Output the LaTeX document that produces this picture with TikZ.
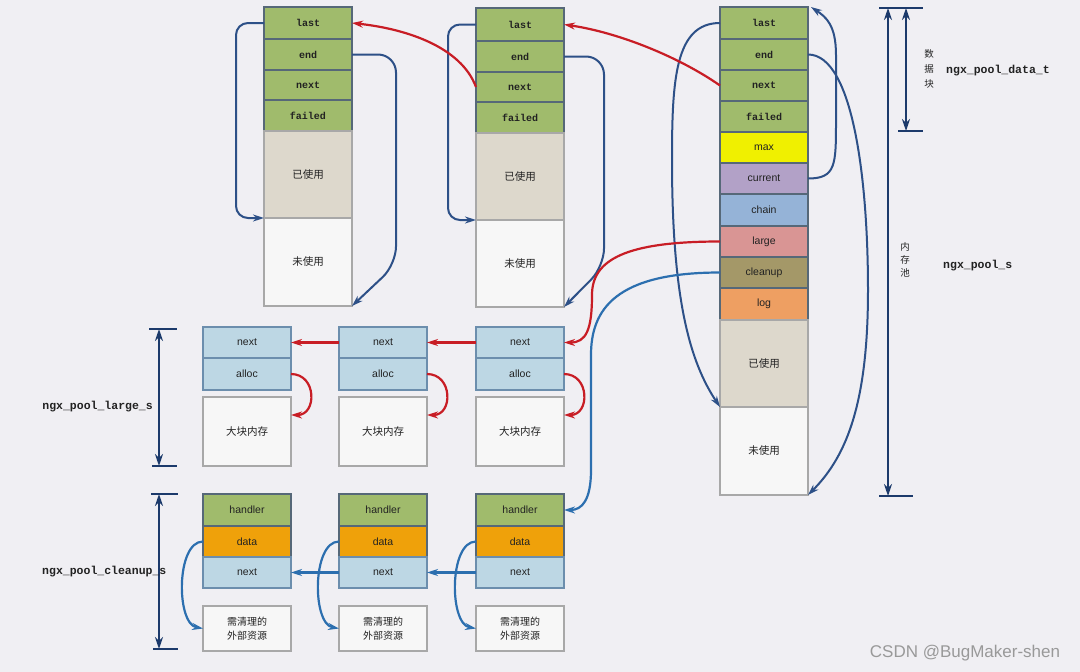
\documentclass[tikz,border=0pt]{standalone}
\usepackage{fontspec}
\setmainfont{Liberation Sans}
\newfontfamily\cjk{Noto Sans CJK SC}
\newfontfamily\monob{Liberation Mono}
\usetikzlibrary{arrows.meta,calc}
\definecolor{bg}{HTML}{F0EFF3}
\definecolor{gfill}{HTML}{A0BB6C}
\definecolor{gborder}{HTML}{566878}
\definecolor{usedfill}{HTML}{DDD8CC}
\definecolor{unusedfill}{HTML}{F7F7F7}
\definecolor{grayborder}{HTML}{A8A8A8}
\definecolor{maxfill}{HTML}{F0F000}
\definecolor{curfill}{HTML}{B2A1C7}
\definecolor{chainfill}{HTML}{95B3D7}
\definecolor{largefill}{HTML}{D99594}
\definecolor{cleanfill}{HTML}{A49868}
\definecolor{logfill}{HTML}{EE9F62}
\definecolor{lbfill}{HTML}{BDD7E4}
\definecolor{lbborder}{HTML}{6C8EAD}
\definecolor{datafill}{HTML}{EFA10A}
\definecolor{navyc}{HTML}{2D5087}
\definecolor{redc}{HTML}{C81D25}
\definecolor{bluec}{HTML}{2C6FAF}
\definecolor{dimc}{HTML}{1C3A6B}
\definecolor{txt}{HTML}{222222}
\begin{document}
\begin{tikzpicture}[x=1pt,y=-1pt,
  box/.style={draw=gborder, line width=1.1pt, minimum width=88pt, inner sep=0pt, outer sep=0pt, anchor=north west, text=txt},
  mf/.style={box, fill=gfill, font=\monob\bfseries\fontsize{10}{11}\selectfont},
  sf/.style={box, font=\fontsize{10.5}{12}\selectfont},
  used/.style={box, draw=grayborder, fill=usedfill, font=\cjk\fontsize{10.5}{12}\selectfont},
  unused/.style={box, draw=grayborder, fill=unusedfill, font=\cjk\fontsize{10.5}{12}\selectfont},
  lb/.style={sf, draw=lbborder, fill=lbfill},
  nv/.style={draw=navyc, line width=2pt, -{Stealth[length=11pt,width=7pt]}},
  rd/.style={draw=redc, line width=2.2pt, -{Stealth[length=11pt,width=7pt]}},
  bl/.style={draw=bluec, line width=2.2pt, -{Stealth[length=11pt,width=7pt]}},
  dimline/.style={draw=dimc, line width=2.6pt, {Stealth[length=12pt,width=8pt]}-{Stealth[length=12pt,width=8pt]}},
  dimtick/.style={draw=dimc, line width=2pt},
  lbl/.style={inner sep=0pt, text=txt, font=\monob\bfseries\fontsize{11.5}{13}\selectfont},
  vlbl/.style={inner sep=0pt, align=center, text=txt}
]
\fill[bg] (0,0) rectangle (1080,672);
\useasboundingbox (0,0) rectangle (1080,672);

% ---------- block 1 ----------
\node[mf, minimum height=32pt] (b1last) at (264,7) {last};
\node[mf, minimum height=31pt] (b1end) at (264,39) {end};
\node[mf, minimum height=30pt] (b1next) at (264,70) {next};
\node[mf, minimum height=31pt] (b1failed) at (264,100) {failed};
\node[used, minimum height=87pt] (b1used) at (264,131) {已使用};
\node[unused, minimum height=88pt] (b1unused) at (264,218) {未使用};

% ---------- block 2 ----------
\node[mf, minimum height=33pt] (b2last) at (476,8) {last};
\node[mf, minimum height=31pt] (b2end) at (476,41) {end};
\node[mf, minimum height=30pt] (b2next) at (476,72) {next};
\node[mf, minimum height=31pt] (b2failed) at (476,102) {failed};
\node[used, minimum height=87pt] (b2used) at (476,133) {已使用};
\node[unused, minimum height=87pt] (b2unused) at (476,220) {未使用};

% ---------- block 3 (pool) ----------
\node[mf, minimum height=32pt] (b3last) at (720,7) {last};
\node[mf, minimum height=31pt] (b3end) at (720,39) {end};
\node[mf, minimum height=31pt] (b3next) at (720,70) {next};
\node[mf, minimum height=31pt] (b3failed) at (720,101) {failed};
\node[sf, fill=maxfill, minimum height=31pt] (b3max) at (720,132) {max};
\node[sf, fill=curfill, minimum height=31pt] (b3current) at (720,163) {current};
\node[sf, fill=chainfill, minimum height=32pt] (b3chain) at (720,194) {chain};
\node[sf, fill=largefill, minimum height=31pt] (b3large) at (720,226) {large};
\node[sf, fill=cleanfill, minimum height=31pt] (b3cleanup) at (720,257) {cleanup};
\node[sf, fill=logfill, minimum height=32pt] (b3log) at (720,288) {log};
\node[used, minimum height=87pt] (b3used) at (720,320) {已使用};
\node[unused, minimum height=88pt] (b3unused) at (720,407) {未使用};

% ---------- large and cleanup blocks ----------
\foreach \k/\x in {A/203,B/339,C/476}{
  \node[lb, minimum height=31pt] (l\k-next) at (\x,327) {next};
  \node[lb, minimum height=32pt] (l\k-alloc) at (\x,358) {alloc};
  \node[unused, minimum height=69pt] (l\k-mem) at (\x,397) {大块内存};
  \node[sf, fill=gfill, minimum height=32pt] (k\k-handler) at (\x,494) {handler};
  \node[sf, fill=datafill, minimum height=31pt] (k\k-data) at (\x,526) {data};
  \node[lb, minimum height=31pt] (k\k-next) at (\x,557) {next};
  \node[unused, minimum height=45pt, align=center, font=\cjk\fontsize{10}{13.5}\selectfont] (k\k-res) at (\x,606) {需清理的\\外部资源};
}

% ---------- pointers inside data blocks ----------
\draw[nv, rounded corners=12pt] (b1last.west) -- ++(-28,0) |- (b1unused.north west);
\draw[nv, rounded corners=18pt] (b1end.east) -- ++(44,0) -- ++(0,210) -- (b1unused.south east);
\draw[nv, rounded corners=12pt] (b2last.west) -- ++(-28,0) |- (b2unused.north west);
\draw[nv, rounded corners=18pt] (b2end.east) -- ++(40,0) -- ++(0,210) -- (b2unused.south east);
\draw[nv] (b3last.west) .. controls +(-45,0) and +(0,-80) .. (672,160) .. controls +(0,140) and +(-30,-45) .. (b3unused.north west);
\draw[nv] (b3end.east) .. controls +(45,0) and +(0,-110) .. (868,290) .. controls +(0,110) and +(40,-40) .. (b3unused.south east);
\draw[nv] (b3current.east) .. controls +(28,0) and +(0,45) .. (836,120) -- (836,55) .. controls +(0,-30) and +(15,10) .. ([xshift=3pt]b3last.north east);

% ---------- next chain of data blocks ----------
\draw[rd] (b3next.west) .. controls +(-40,-28) and +(55,8) .. (b2last.east);
\draw[rd] (b2next.west) .. controls +(-15,-40) and +(55,6) .. (b1last.east);

% ---------- large chain ----------
\draw[rd] (b3large.west) .. controls +(-95,0) and +(0,-35) .. (592,295) .. controls +(0,35) and +(22,0) .. (lC-next.east);
\draw[rd] (lC-next.west) -- (lB-next.east);
\draw[rd] (lB-next.west) -- (lA-next.east);
\foreach \k in {A,B,C}{
  \draw[rd] (l\k-alloc.east) .. controls +(26,0) and +(26,0) .. ([yshift=-18pt]l\k-mem.north east);
}

% ---------- cleanup chain ----------
\draw[bl] (b3cleanup.west) .. controls +(-105,0) and +(0,-45) .. (591,355) -- (591,470) .. controls +(0,30) and +(18,0) .. (kC-handler.east);
\draw[bl] (kC-next.west) -- (kB-next.east);
\draw[bl] (kB-next.west) -- (kA-next.east);
\foreach \k in {A,B,C}{
  \draw[bl] (k\k-data.west) .. controls +(-27,0) and +(-27,-5) .. (k\k-res.west);
}

% ---------- dimension lines ----------
\coordinate (poolT) at (888,8);
\coordinate (poolB) at (888,496);
\coordinate (dataT) at (906,8);
\coordinate (dataB) at (906,131);
\draw[dimtick] (879,8) -- (923,8);
\draw[dimtick] (879,496) -- (913,496);
\draw[dimtick] (898,131) -- (923,131);
\draw[dimline] (poolT) -- (poolB);
\draw[dimline] (dataT) -- (dataB);

\coordinate (largeT) at (159,329);
\coordinate (largeB) at (159,466);
\draw[dimtick] (149,329) -- (177,329);
\draw[dimtick] (152,466) -- (177,466);
\draw[dimline] (largeT) -- (largeB);

\coordinate (cleanT) at (159,494);
\coordinate (cleanB) at (159,649);
\draw[dimtick] (151,494) -- (178,494);
\draw[dimtick] (153,649) -- (178,649);
\draw[dimline] (cleanT) -- (cleanB);

% ---------- labels ----------
\node[vlbl, font=\cjk\fontsize{9.5}{15}\selectfont] (vdata) at (929,69) {数\\据\\块};
\node[vlbl, font=\cjk\fontsize{9.5}{13}\selectfont] (vpool) at (905,260) {内\\存\\池};
\node[lbl, anchor=west] (ldata) at (946,71) {ngx\_pool\_data\_t};
\node[lbl, anchor=west] (lpool) at (943,266) {ngx\_pool\_s};
\node[lbl, anchor=east] (llarge) at (153,407) {ngx\_pool\_large\_s};
\node[lbl, anchor=west] (lclean) at (42,572) {ngx\_pool\_cleanup\_s};

\node[inner sep=0pt, text=black!40, font=\fontsize{17}{20}\selectfont] (wm) at (965,653) {CSDN @BugMaker-shen};
\end{tikzpicture}
\end{document}
